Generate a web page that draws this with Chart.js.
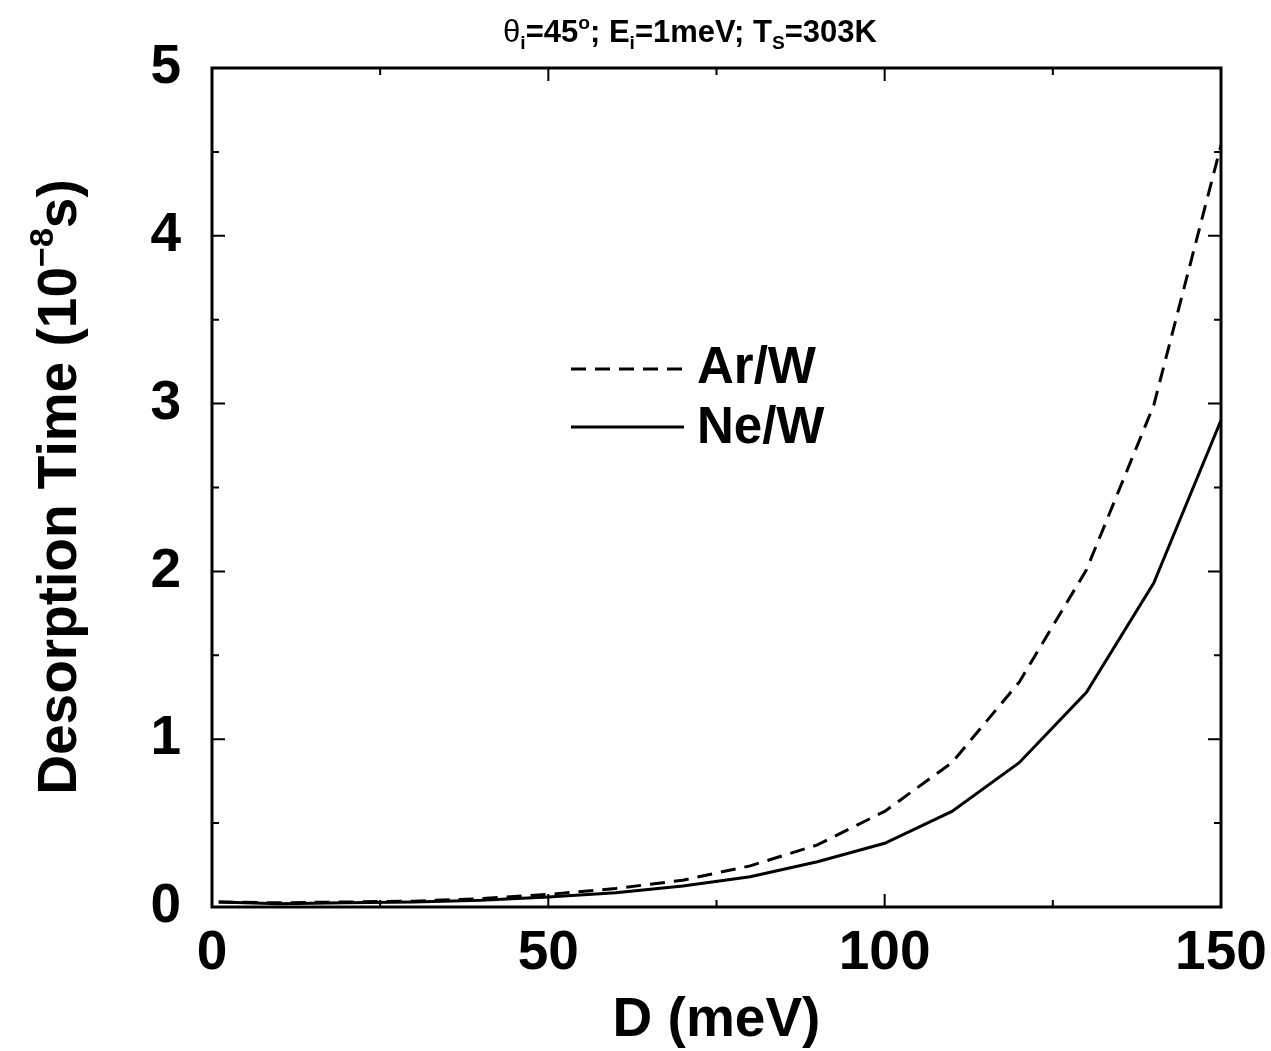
<!DOCTYPE html>
<html>
<head>
<meta charset="utf-8">
<script src="https://cdn.jsdelivr.net/npm/chart.js@4.4.1/dist/chart.umd.min.js"></script>
<style>
  html, body { margin: 0; padding: 0; background: #fff; }
  #wrap { width: 1271px; height: 1051px; position: relative; }
</style>
</head>
<body>
<div id="wrap"><canvas id="chart"></canvas></div>
<script>
// desorption time vs well depth D

const D_VALUES = [1, 10, 20, 30, 40, 50, 60, 70, 80, 90, 100, 110, 120, 130, 140, 150];
const AR_W = [0.03, 0.025, 0.03, 0.035, 0.05, 0.075, 0.11, 0.16, 0.245, 0.37, 0.57, 0.86, 1.34, 2.01, 2.99, 4.54];
const NE_W = [0.03, 0.02, 0.025, 0.03, 0.04, 0.06, 0.085, 0.125, 0.18, 0.27, 0.38, 0.57, 0.86, 1.28, 1.93, 2.90];
const X_TICKS = [0, 50, 100, 150];
const X_MINOR = [25, 75, 125];
const Y_TICKS = [0, 1, 2, 3, 4, 5];
const Y_MINOR = [0.5, 1.5, 2.5, 3.5, 4.5];

const FONT = "'Liberation Sans', Arial, sans-serif";
const PLOT = { left: 212, right: 1221, top: 68, bottom: 907 };

function toPoints(ys) {
  return D_VALUES.map((x, i) => ({ x, y: ys[i] }));
}

// draws a run of text pieces, some raised or lowered
function drawRich(ctx, parts, x, y, size, align) {
  const widths = parts.map(p => {
    const s = p.mode ? size * 0.62 : size;
    ctx.font = `${p.font || 'bold'} ${s}px ${p.family || FONT}`;
    return ctx.measureText(p.t).width;
  });
  const total = widths.reduce((a, b) => a + b, 0);
  let cx = align === 'center' ? x - total / 2 : x;
  parts.forEach((p, i) => {
    const s = p.mode ? size * 0.62 : size;
    ctx.font = `${p.font || 'bold'} ${s}px ${p.family || FONT}`;
    let dy = 0;
    if (p.mode === 'sub') dy = size * 0.22;
    if (p.mode === 'sup') dy = -size * 0.42;
    ctx.fillText(p.t, cx, y + dy);
    cx += widths[i];
  });
}

const framePlugin = {
  id: 'frame',
  afterDatasetsDraw(chart) {
    const { ctx, chartArea: a, scales } = chart;
    const xs = scales.x, ys = scales.y;
    ctx.save();
    ctx.strokeStyle = '#000';
    ctx.lineWidth = 3;
    ctx.strokeRect(a.left, a.top, a.right - a.left, a.bottom - a.top);

    ctx.lineWidth = 2;
    ctx.beginPath();
    const tick = (vals, len) => {
      vals.forEach(v => {
        const px = xs.getPixelForValue(v);
        ctx.moveTo(px, a.bottom); ctx.lineTo(px, a.bottom - len);
        ctx.moveTo(px, a.top); ctx.lineTo(px, a.top + len);
      });
    };
    const ytick = (vals, len) => {
      vals.forEach(v => {
        const py = ys.getPixelForValue(v);
        ctx.moveTo(a.left, py); ctx.lineTo(a.left + len, py);
        ctx.moveTo(a.right, py); ctx.lineTo(a.right - len, py);
      });
    };
    tick(X_TICKS, 13); tick(X_MINOR, 7);
    ytick(Y_TICKS, 13); ytick(Y_MINOR, 7);
    ctx.stroke();

    // legend inside the plot
    ctx.lineWidth = 3;
    ctx.setLineDash([15, 9]);
    ctx.beginPath(); ctx.moveTo(571, 369); ctx.lineTo(684, 369); ctx.stroke();
    ctx.setLineDash([]);
    ctx.beginPath(); ctx.moveTo(571, 427); ctx.lineTo(684, 427); ctx.stroke();
    ctx.fillStyle = '#000';
    ctx.textBaseline = 'middle';
    ctx.textAlign = 'left';
    ctx.font = `bold 51px ${FONT}`;
    ctx.fillText(chart.data.datasets[0].label, 697, 369);
    ctx.fillText(chart.data.datasets[1].label, 697, 429);

    // title with sub/superscripts
    ctx.textBaseline = 'alphabetic';
    drawRich(ctx, [
      { t: 'θ', font: 'normal' },
      { t: 'i', mode: 'sub' },
      { t: '=45' },
      { t: 'o', mode: 'sup' },
      { t: '; E' },
      { t: 'i', mode: 'sub' },
      { t: '=1meV; T' },
      { t: 'S', mode: 'sub' },
      { t: '=303K' }
    ], 690, 42, 31, 'center');

    // y axis title, rotated
    ctx.translate(76, 487);
    ctx.rotate(-Math.PI / 2);
    drawRich(ctx, [
      { t: 'Desorption Time (10' },
      { t: '−8', mode: 'sup' },
      { t: 's)' }
    ], 0, 0, 55, 'center');
    ctx.restore();
  }
};

new Chart(document.getElementById('chart'), {
  type: 'line',
  data: {
    datasets: [
      {
        label: 'Ar/W',
        data: toPoints(AR_W),
        borderColor: '#000',
        borderWidth: 3,
        borderDash: [15, 9],
        pointRadius: 0,
        tension: 0,
        fill: false
      },
      {
        label: 'Ne/W',
        data: toPoints(NE_W),
        borderColor: '#000',
        borderWidth: 3,
        pointRadius: 0,
        tension: 0,
        fill: false
      }
    ]
  },
  options: {
    responsive: true,
    maintainAspectRatio: false,
    animation: false,
    layout: { padding: { top: PLOT.top, right: 1271 - PLOT.right, left: 0, bottom: 0 } },
    plugins: { legend: { display: false }, title: { display: false }, tooltip: { enabled: false } },
    scales: {
      x: {
        type: 'linear',
        min: 0,
        max: 150,
        afterBuildTicks: s => { s.ticks = X_TICKS.map(v => ({ value: v })); },
        afterFit: s => {
          s.height = 1051 - PLOT.bottom;
          s.paddingLeft = 0;
          s.paddingRight = 0;
        },
        grid: { display: false, drawTicks: false },
        border: { display: false },
        ticks: {
          color: '#000',
          padding: 14,
          maxRotation: 0,
          font: { family: FONT, size: 55, weight: 'bold' }
        },
        title: {
          display: true,
          text: 'D (meV)',
          color: '#000',
          padding: { top: 0, bottom: -3 },
          font: { family: FONT, size: 55, weight: 'bold' }
        }
      },
      y: {
        min: 0,
        max: 5,
        afterBuildTicks: s => { s.ticks = Y_TICKS.map(v => ({ value: v })); },
        afterFit: s => {
          s.width = PLOT.left;
          s.paddingTop = 0;
          s.paddingBottom = 0;
        },
        grid: { display: false, drawTicks: false },
        border: { display: false },
        ticks: {
          color: '#000',
          padding: 31,
          font: { family: FONT, size: 55, weight: 'bold' }
        }
      }
    }
  },
  plugins: [framePlugin]
});
</script>
</body>
</html>
